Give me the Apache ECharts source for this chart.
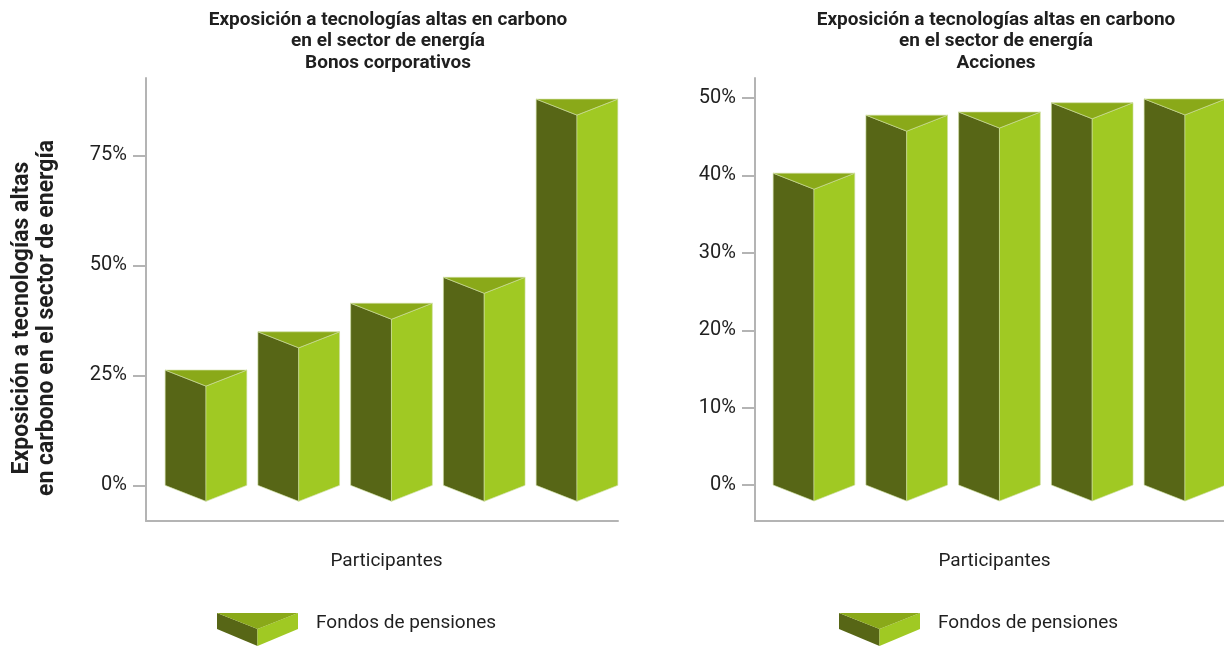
<!DOCTYPE html>
<html>
<head>
<meta charset="utf-8">
<script src="https://cdn.jsdelivr.net/npm/echarts@6/dist/echarts.min.js"></script>
<style>
  html, body { margin: 0; padding: 0; background: #ffffff; }
  #chart { width: 1224px; height: 646px; }
</style>
</head>
<body>
<div id="chart"></div>
<script>
// ---- data ----
const categories = ['Participante 1', 'Participante 2', 'Participante 3', 'Participante 4', 'Participante 5'];
const bonosValues = [26.2, 34.9, 41.4, 47.3, 87.8];
const accionesValues = [40.3, 47.8, 48.2, 49.4, 49.9];
const bonosTicks = [0, 25, 50, 75];
const accionesTicks = [0, 10, 20, 30, 40, 50];
const seriesName = 'Fondos de pensiones';
const titleLeft = 'Exposición a tecnologías altas en carbono\nen el sector de energía\nBonos corporativos';
const titleRight = 'Exposición a tecnologías altas en carbono\nen el sector de energía\nAcciones';
const yName = 'Exposición a tecnologías altas\nen carbono en el sector de energía';
const xName = 'Participantes';

// ---- styles ----
const DARK = '#576616';
const LIGHT = '#a0c923';
const TOP = '#8aa919';
const EDGE = 'rgba(205,222,160,0.9)';
const AXIS = '#b4b4b4';
const TEXT = '#1f1f1f';
const FONT = 'Roboto';
const DIP = 16;

const iconSvg = '<svg xmlns="http://www.w3.org/2000/svg" width="81" height="46" viewBox="0 0 81 46">' +
  '<polygon points="0,13 40.5,29 40.5,46 0,29" fill="' + DARK + '"/>' +
  '<polygon points="40.5,29 81,13 81,29 40.5,46" fill="' + LIGHT + '"/>' +
  '<polygon points="0,13 81,13 40.5,29" fill="' + TOP + '"/>' +
  '</svg>';
const iconUrl = 'image://data:image/svg+xml;charset=utf-8,' + encodeURIComponent(iconSvg);

function renderPrism(params, api) {
  const idx = api.value(0);
  const val = api.value(1);
  const top = api.coord([idx, val]);
  const base = api.coord([idx, 0]);
  const unit = Math.abs(api.coord([idx + 1, 0])[0] - base[0]);
  const half = unit * 0.88 / 2;
  const cx = top[0];
  const ty = top[1];
  const by = base[1];
  const common = { stroke: EDGE, lineWidth: 0.7 };
  return {
    type: 'group',
    children: [
      { type: 'polygon', shape: { points: [[cx - half, ty], [cx, ty + DIP], [cx, by + DIP], [cx - half, by]] },
        style: Object.assign({ fill: DARK }, common) },
      { type: 'polygon', shape: { points: [[cx, ty + DIP], [cx + half, ty], [cx + half, by], [cx, by + DIP]] },
        style: Object.assign({ fill: LIGHT }, common) },
      { type: 'polygon', shape: { points: [[cx - half, ty], [cx + half, ty], [cx, ty + DIP]] },
        style: Object.assign({ fill: TOP }, common) }
    ]
  };
}

const chart = echarts.init(document.getElementById('chart'), null, { renderer: 'canvas' });

function axesX(gridIndex, padLeft) {
  return {
    type: 'category', gridIndex: gridIndex, data: categories,
    axisLine: { show: true, onZero: false, lineStyle: { color: AXIS, width: 2 } },
    axisTick: { show: false }, axisLabel: { show: false },
    name: xName, nameLocation: 'middle', nameGap: 31,
    nameTextStyle: { fontFamily: FONT, fontSize: 19, color: TEXT, padding: [0, 0, 0, padLeft] }
  };
}
function axesY(gridIndex, min, max, ticks) {
  return {
    type: 'value', gridIndex: gridIndex, min: min, max: max,
    axisLine: { show: true, onZero: false, lineStyle: { color: AXIS, width: 2 } },
    axisTick: { show: true, length: 13, lineStyle: { color: AXIS, width: 2 }, customValues: ticks },
    axisLabel: { show: true, customValues: ticks, formatter: '{value}%', margin: 19,
      fontFamily: FONT, fontSize: 20, color: TEXT },
    splitLine: { show: false }
  };
}
// hidden index axis for the prisms: one unit per participant
function hiddenX(gridIndex, max) {
  return { type: 'value', gridIndex: gridIndex, min: -0.5, max: max, show: false, splitLine: { show: false } };
}
function hiddenY(gridIndex, min, max) {
  return { type: 'value', gridIndex: gridIndex, min: min, max: max, show: false, splitLine: { show: false } };
}

const option = {
  backgroundColor: '#ffffff',
  animation: false,
  grid: [
    { left: 146, top: 78, width: 472, height: 443 },
    { left: 159.6, top: 78, width: 463.75, height: 443 },
    { left: 755, top: 78, right: 0, height: 443 },
    { left: 767.6, top: 78, right: 0, height: 443 }
  ],
  xAxis: [axesX(0, 9), hiddenX(1, 4.5), axesX(2, 10), hiddenX(3, 4.421)],
  yAxis: [
    axesY(0, -8.1, 92.6, bonosTicks), hiddenY(1, -8.1, 92.6),
    axesY(2, -4.65, 52.6, accionesTicks), hiddenY(3, -4.65, 52.6)
  ],
  legend: [
    { left: 217, top: 600, padding: 0, itemWidth: 81, itemHeight: 46, selectedMode: false,
      data: [{ name: seriesName, icon: iconUrl }],
      textStyle: { fontFamily: FONT, fontSize: 19, color: TEXT, padding: [0, 0, 0, 13] } },
    { left: 839, top: 600, padding: 0, itemWidth: 81, itemHeight: 46, selectedMode: false,
      data: [{ name: seriesName, icon: iconUrl }],
      textStyle: { fontFamily: FONT, fontSize: 19, color: TEXT, padding: [0, 0, 0, 13] } }
  ],
  graphic: [
    { type: 'text', x: 388, y: 9, style: { text: titleLeft, align: 'center', verticalAlign: 'top',
      font: 'bold 19px ' + FONT, lineHeight: 21.5, fill: TEXT } },
    { type: 'text', x: 996, y: 9, style: { text: titleRight, align: 'center', verticalAlign: 'top',
      font: 'bold 19px ' + FONT, lineHeight: 21.5, fill: TEXT } },
    { type: 'text', x: 34.5, y: 318, rotation: Math.PI / 2, style: { text: yName, align: 'center',
      verticalAlign: 'middle', font: 'bold 23px ' + FONT, lineHeight: 25, fill: TEXT } }
  ],
  series: [
    { name: seriesName, type: 'custom', xAxisIndex: 1, yAxisIndex: 1, clip: false,
      renderItem: renderPrism, itemStyle: { color: LIGHT },
      data: bonosValues.map((v, i) => [i, v]) },
    { name: seriesName, type: 'custom', xAxisIndex: 3, yAxisIndex: 3, clip: false,
      renderItem: renderPrism, itemStyle: { color: LIGHT },
      data: accionesValues.map((v, i) => [i, v]) }
  ]
};
chart.setOption(option);
</script>
</body>
</html>
